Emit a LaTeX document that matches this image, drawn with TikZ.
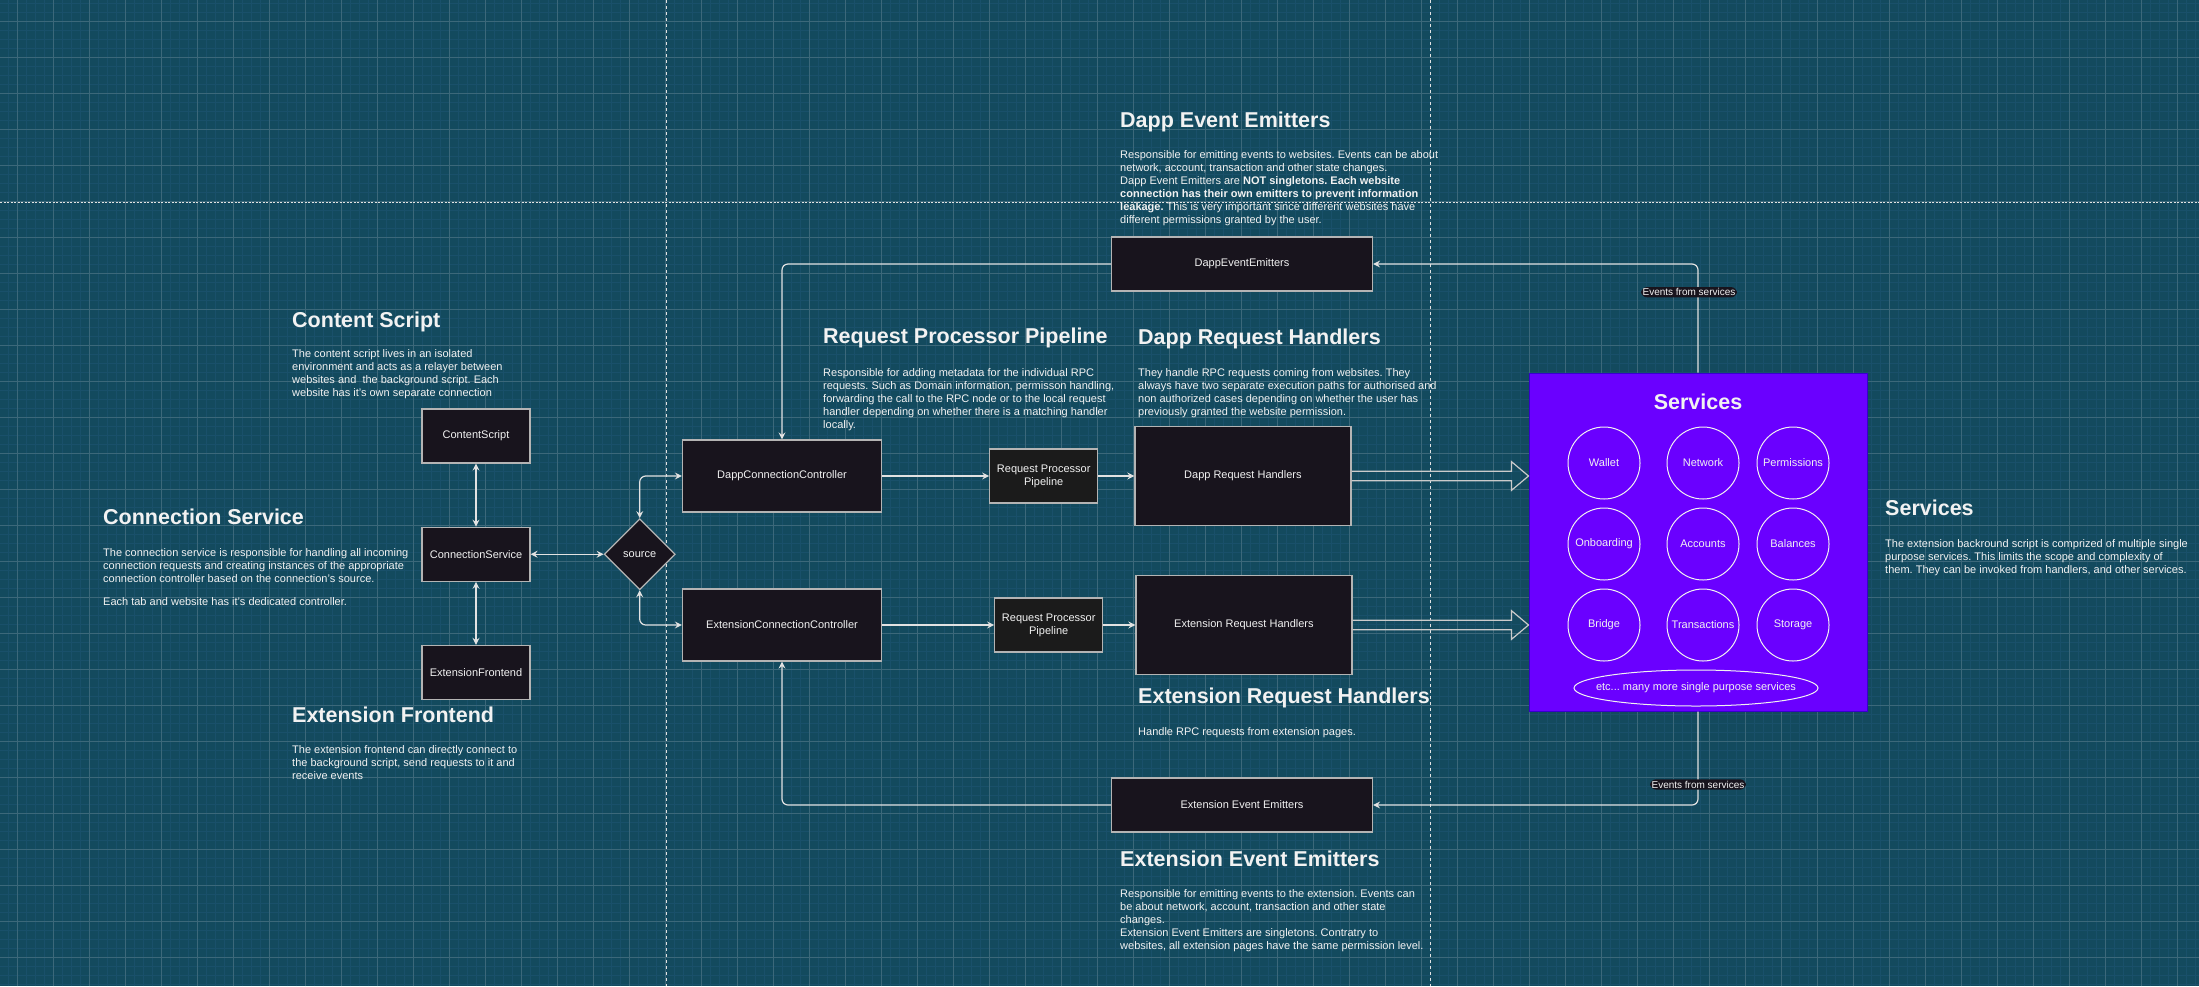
\documentclass[tikz,border=0pt]{standalone}
\usepackage{fontspec}
\setmainfont{Liberation Sans}
\usepackage{tikz}
\usetikzlibrary{shapes.geometric, positioning, arrows.meta, calc}

\definecolor{canvas}{HTML}{134A5E}
\definecolor{gridmajor}{HTML}{3C687A}
\definecolor{gridminor}{HTML}{19506A}
\definecolor{boxfill}{HTML}{18141D}
\definecolor{pipefill}{HTML}{1B1B1B}
\definecolor{boxline}{HTML}{B4B4B4}
\definecolor{wirecolor}{HTML}{E2E2E2}
\definecolor{inktext}{HTML}{F2F2F2}
\definecolor{violet}{HTML}{6A00FF}
\definecolor{violetline}{HTML}{3700CC}

\frenchspacing

\begin{document}
\begin{tikzpicture}[
        x=1pt, y=-1pt,
        >={Stealth[length=7pt, width=7pt, inset=2.5pt]}, % Arrow style
        % Define node styles
        box/.style={draw=boxline, fill=boxfill, line width=1.2pt, rectangle, minimum width=108pt, minimum height=54pt, align=center, text=inktext, font=\fontsize{11}{13}\selectfont},
        pipe box/.style={box, fill=pipefill},
        decision/.style={box, diamond, minimum width=71pt, minimum height=71pt, inner sep=0pt},
        heading/.style={anchor=base west, inner sep=0pt, text=inktext, font=\fontsize{21.5}{24}\selectfont\bfseries},
        blurb/.style={anchor=north west, inner sep=0pt, align=left, text=inktext, font=\fontsize{11}{13}\selectfont},
        service/.style={draw=inktext, line width=1pt, circle, minimum size=72pt, inner sep=0pt, text=inktext, font=\fontsize{11}{13}\selectfont},
        wire/.style={draw=wirecolor, line width=1.2pt},
        link/.style={draw=boxline!70!white, line width=1.2pt, line join=miter},
        divider/.style={draw=wirecolor, line width=0.8pt},
        event label/.style={fill=boxfill, text=inktext, inner sep=1.5pt, font=\fontsize{10}{11}\selectfont}
    ]

    % --- Canvas ---
    \useasboundingbox (0,0) rectangle (2199,986);
    \fill[canvas] (0,0) rectangle (2199,986);
    \draw[gridminor, line width=0.5pt, xshift=17.7pt, yshift=-21.3pt, step=9pt] (-17.7,-21.3) grid (2181.3,964.7);
    \draw[gridmajor, line width=0.7pt, xshift=17.7pt, yshift=-21.3pt, step=36pt] (-17.7,-21.3) grid (2181.3,964.7);

    % Dividers
    \draw[divider, dash pattern=on 3pt off 3pt] (666,0) -- (666,986);
    \draw[divider, dash pattern=on 3pt off 3pt] (1430,0) -- (1430,986);
    \draw[divider, dash pattern=on 2pt off 1.5pt] (0,202) -- (2199,202);

    % --- Connection side ---
    \node[box] (ContentScript) at (476,436) {ContentScript};
    \node[box, below=63pt of ContentScript] (ConnectionService) {ConnectionService};
    \node[box, below=63pt of ConnectionService] (ExtensionFrontend) {ExtensionFrontend};
    \node[decision, right=73pt of ConnectionService] (source) {source};

    % --- Controllers, pipelines and handlers ---
    \node[box, minimum width=199pt, minimum height=72pt] (DappConnectionController) at (782,476) {DappConnectionController};
    \node[box, minimum width=199pt, minimum height=72pt] (ExtensionConnectionController) at (782,625) {ExtensionConnectionController};
    \node[pipe box, right=107pt of DappConnectionController] (DappPipeline) {Request Processor\\Pipeline};
    \node[pipe box, right=112pt of ExtensionConnectionController] (ExtensionPipeline) {Request Processor\\Pipeline};
    \node[box, minimum width=216pt, minimum height=99pt, right=36pt of DappPipeline] (DappHandlers) {Dapp Request Handlers};
    \node[box, minimum width=216pt, minimum height=99pt, right=32pt of ExtensionPipeline] (ExtensionHandlers) {Extension Request Handlers};

    % Emitters
    \node[box, minimum width=261pt] (DappEmitters) at (1242,264) {DappEventEmitters};
    \node[box, minimum width=261pt] (ExtensionEmitters) at (1242,805) {Extension Event Emitters};

    % --- Services ---
    \node[draw=violetline, fill=violet, line width=1pt, minimum width=338pt, minimum height=338pt] (Services) at (1698,542) {};
    \node[heading, anchor=base] (ServicesTitle) at ($(Services.north)+(0,37)$) {Services};
    \node[service] (Wallet) at (1604,463) {Wallet};
    \node[service] (Network) at (1703,463) {Network};
    \node[service] (Permissions) at (1793,463) {Permissions};
    \node[service] (Onboarding) at (1604,544) {Onboarding};
    \node[service] (Accounts) at (1703,544) {Accounts};
    \node[service] (Balances) at (1793,544) {Balances};
    \node[service] (Bridge) at (1604,625) {Bridge};
    \node[service] (Transactions) at (1703,625) {Transactions};
    \node[service] (Storage) at (1793,625) {Storage};
    \node[service, ellipse, minimum width=244pt, minimum height=36pt] (MoreServices) at (1696,688) {\makebox[0pt]{etc... many more single purpose services}};

    % --- Notes ---
    \node[heading] (csHead) at (292,327) {Content Script};
    \node[blurb] (csText) at (292,349) {The content script lives in an isolated\\environment and acts as a relayer between\\websites and\ \ the background script. Each\\website has it's own separate connection};

    \node[heading] (connHead) at (103,524) {Connection Service};
    \node[blurb] (connText) at (103,548) {The connection service is responsible for handling all incoming\\connection requests and creating instances of the appropriate\\connection controller based on the connection's source.\\[10pt]Each tab and website has it's dedicated controller.};

    \node[heading] (efHead) at (292,722) {Extension Frontend};
    \node[blurb] (efText) at (292,745) {The extension frontend can directly connect to\\the background script, send requests to it and\\receive events};

    \node[heading] (rppHead) at (823,343) {Request Processor Pipeline};
    \node[blurb] (rppText) at (823,368) {Responsible for adding metadata for the individual RPC\\requests. Such as Domain information, permisson handling,\\forwarding the call to the RPC node or to the local request\\handler depending on whether there is a matching handler\\locally.};

    \node[heading] (drhHead) at (1138,344) {Dapp Request Handlers};
    \node[blurb] (drhText) at (1138,368) {They handle RPC requests coming from websites. They\\always have two separate execution paths for authorised and\\non authorized cases depending on whether the user has\\previously granted the website permission.};

    \node[heading] (deeHead) at (1120,127) {Dapp Event Emitters};
    \node[blurb] (deeText) at (1120,150) {Responsible for emitting events to websites. Events can be about\\network, account, transaction and other state changes.\\Dapp Event Emitters are \textbf{NOT singletons. Each website}\\\textbf{connection has their own emitters to prevent information}\\\textbf{leakage.} This is very important since different websites have\\different permissions granted by the user.};

    \node[heading] (erhHead) at (1138,703) {Extension Request Handlers};
    \node[blurb] (erhText) at (1138,727) {Handle RPC requests from extension pages.};

    \node[heading] (eeeHead) at (1120,866) {Extension Event Emitters};
    \node[blurb] (eeeText) at (1120,889) {Responsible for emitting events to the extension. Events can\\be about network, account, transaction and other state\\changes.\\Extension Event Emitters are singletons. Contratry to\\websites, all extension pages have the same permission level.};

    \node[heading] (svcHead) at (1885,515) {Services};
    \node[blurb] (svcText) at (1885,539) {The extension backround script is comprized of multiple single\\purpose services. This limits the scope and complexity of\\them. They can be invoked from handlers, and other services.};

    % --- Connecting Lines ---

    % Connection service
    \draw[wire, <->] (ContentScript) -- (ConnectionService);
    \draw[wire, <->] (ConnectionService) -- (ExtensionFrontend);
    \draw[wire, <->] (ConnectionService) -- (source);

    % source to controllers
    \draw[wire, <->, rounded corners=6pt] (source.north) |- (DappConnectionController.west);
    \draw[wire, <->, rounded corners=6pt] (source.south) |- (ExtensionConnectionController.west);

    % controllers to pipelines to handlers
    \draw[wire, ->] (DappConnectionController) -- (DappPipeline);
    \draw[wire, ->] (DappPipeline) -- (DappHandlers);
    \draw[wire, ->] (ExtensionConnectionController) -- (ExtensionPipeline);
    \draw[wire, ->] (ExtensionPipeline) -- (ExtensionHandlers);

    % handlers to services (link arrows)
    \coordinate (DappTip) at (Services.west |- DappHandlers.east);
    \coordinate (ExtensionTip) at (Services.west |- ExtensionHandlers.east);
    \draw[link] ($(DappHandlers.east)+(0,-4.7)$) -- ($(DappTip)+(-17,-4.7)$) -- ($(DappTip)+(-17,-14.3)$) -- (DappTip)
        -- ($(DappTip)+(-17,14.3)$) -- ($(DappTip)+(-17,4.7)$) -- ($(DappHandlers.east)+(0,4.7)$);
    \draw[link] ($(ExtensionHandlers.east)+(0,-4.7)$) -- ($(ExtensionTip)+(-17,-4.7)$) -- ($(ExtensionTip)+(-17,-14.3)$) -- (ExtensionTip)
        -- ($(ExtensionTip)+(-17,14.3)$) -- ($(ExtensionTip)+(-17,4.7)$) -- ($(ExtensionHandlers.east)+(0,4.7)$);

    % services to emitters
    \draw[wire, ->, rounded corners=6pt] (Services.north) |- node[event label, pos=0.37, xshift=-9pt] (dappEvents) {Events from services} (DappEmitters.east);
    \draw[wire, ->, rounded corners=6pt] (Services.south) |- node[event label, pos=0.39] (extEvents) {Events from services} (ExtensionEmitters.east);

    % emitters to controllers
    \draw[wire, ->, rounded corners=6pt] (DappEmitters.west) -| (DappConnectionController.north);
    \draw[wire, ->, rounded corners=6pt] (ExtensionEmitters.west) -| (ExtensionConnectionController.south);

    \end{tikzpicture}
\end{document}
